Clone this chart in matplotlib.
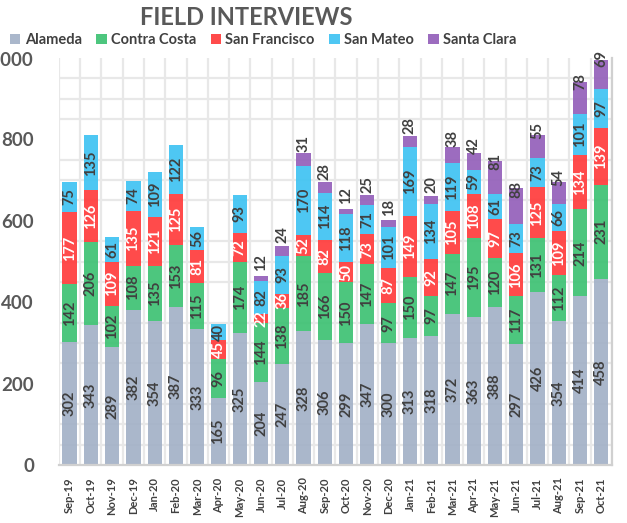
import matplotlib.pyplot as plt
import numpy as np

plt.rcParams['font.family'] = ['Lato', 'DejaVu Sans']

months = ['Sep-19', 'Oct-19', 'Nov-19', 'Dec-19', 'Jan-20', 'Feb-20', 'Mar-20', 'Apr-20',
          'May-20', 'Jun-20', 'Jul-20', 'Aug-20', 'Sep-20', 'Oct-20', 'Nov-20', 'Dec-20',
          'Jan-21', 'Feb-21', 'Mar-21', 'Apr-21', 'May-21', 'Jun-21', 'Jul-21', 'Aug-21',
          'Sep-21', 'Oct-21']
alameda = [302, 343, 289, 382, 354, 387, 333, 165, 325, 204, 247, 328, 306, 299, 347, 300,
           313, 318, 372, 363, 388, 297, 426, 354, 414, 458]
contra_costa = [142, 206, 102, 108, 135, 153, 115, 96, 174, 144, 138, 185, 166, 150, 147, 97,
                150, 97, 147, 195, 120, 117, 131, 112, 214, 231]
san_francisco = [177, 126, 109, 135, 121, 125, 81, 45, 72, 22, 36, 52, 82, 50, 73, 87,
                 149, 92, 105, 108, 97, 106, 125, 109, 134, 139]
san_mateo = [75, 135, 61, 74, 109, 122, 56, 40, 93, 82, 93, 170, 114, 118, 71, 101,
             169, 134, 119, 59, 61, 73, 73, 66, 101, 97]
santa_clara = [0, 0, 0, 0, 0, 0, 0, 0, 0, 12, 24, 31, 28, 12, 25, 18,
               28, 20, 38, 42, 81, 88, 55, 54, 78, 69]

series = [('Alameda', alameda, '#a3b1c7', '#404040'),
          ('Contra Costa', contra_costa, '#3ec173', '#404040'),
          ('San Francisco', san_francisco, '#ff3b3b', 'white'),
          ('San Mateo', san_mateo, '#3fc3f2', '#404040'),
          ('Santa Clara', santa_clara, '#9460ba', '#404040')]

fig = plt.figure(figsize=(6.27, 5.23), dpi=100)
ax = fig.add_axes([0.094, 0.111, 0.882, 0.778])

x = np.arange(len(months))
bottom = np.zeros(len(months))
for name, vals, col, tcol in series:
    vals = np.array(vals)
    ax.bar(x, vals, 0.67, bottom=bottom, color=col, alpha=0.92, label=name, zorder=2)
    for i, v in enumerate(vals):
        if v == 0:
            continue
        mid = bottom[i] + v / 2
        if name == 'Santa Clara':
            # small purple segments push the label above the stack
            ax.annotate(str(v), (x[i], mid), xytext=(0, 11.5), textcoords='offset points',
                        rotation=90, ha='center', va='center', fontsize=10.5,
                        fontweight='bold', color=tcol, zorder=3)
        else:
            ax.text(x[i], mid, str(v), rotation=90, ha='center', va='center',
                    fontsize=10.5, fontweight='bold', color=tcol, zorder=3)
    bottom += vals

ax.set_xlim(-0.5, len(months) - 0.5)
ax.set_ylim(0, 1000)
ax.set_yticks(np.arange(0, 1001, 200))
ax.set_yticklabels(['0', '200', '400', '600', '800', '1,000'])
ax.set_yticks(np.arange(0, 1001, 50), minor=True)
ax.set_xticks(x)
ax.set_xticklabels(months, rotation=90)
ax.set_xticks(np.arange(-0.5, len(months)), minor=True)
ax.grid(which='minor', color='#e8e8e8', linewidth=1.6, zorder=0)
ax.set_axisbelow(True)
ax.tick_params(which='both', length=0)
ax.tick_params(axis='y', labelsize=13.5, labelcolor='#595959', pad=18)
ax.tick_params(axis='x', labelsize=8, labelcolor='#404040', pad=9)
for lab in ax.get_yticklabels() + ax.get_xticklabels():
    lab.set_fontweight('bold')
for s in ['top', 'left']:
    ax.spines[s].set_visible(False)
for s in ['bottom', 'right']:
    ax.spines[s].set_color('#d0d0d0')
    ax.spines[s].set_linewidth(1.6)

fig.text(0.393, 0.966, 'FIELD INTERVIEWS', ha='center', va='center', fontsize=17,
         fontweight='bold', color='#595959')
fig.legend(loc='center left', bbox_to_anchor=(0.0, 0.923), ncol=5, frameon=False,
           handlelength=0.7, handleheight=0.7, handletextpad=0.3,
           columnspacing=1.0, labelcolor='#404040', borderpad=0.2,
           prop={'weight': 'bold', 'size': 10.5})

fig.savefig('out.png', dpi=100)
